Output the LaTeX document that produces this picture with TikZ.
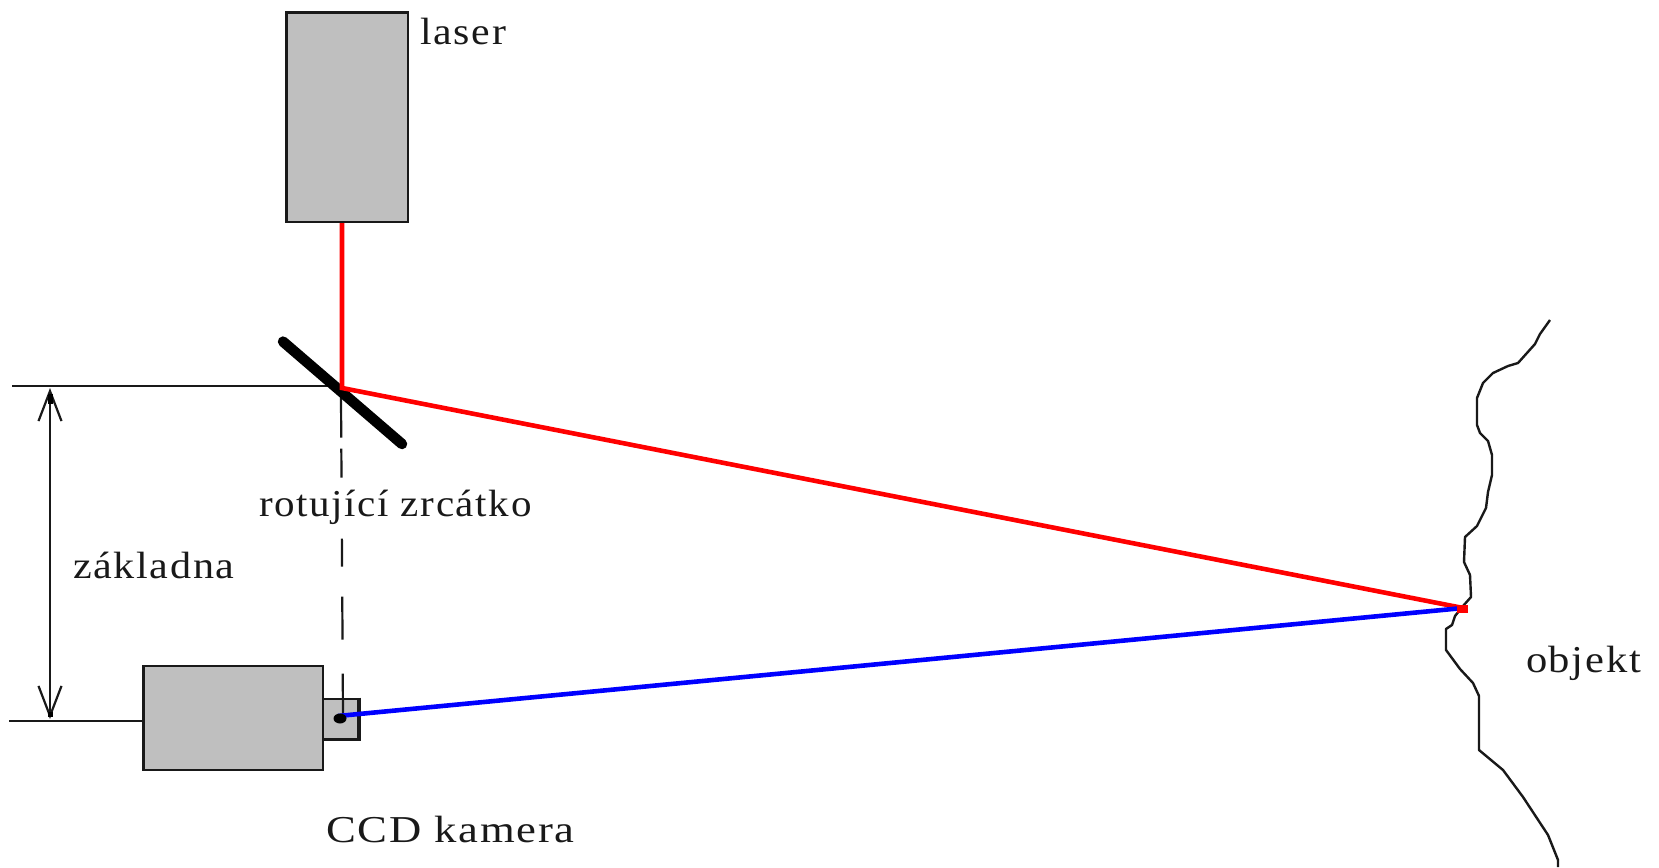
\documentclass[tikz,border=0pt]{standalone}
\usepackage{fontspec}
\setmainfont[LetterSpace=4]{Liberation Serif}
\usetikzlibrary{arrows.meta}
\definecolor{boxgray}{HTML}{BFBFBF}
\tikzset{
  housing/.style={draw=black!90,fill=boxgray,line width=2.6pt},
  thinline/.style={draw=black!90,line width=2.2pt},
  redbeam/.style={draw=red,line width=4.6pt},
  bluebeam/.style={draw=blue,line width=4.6pt},
  lbl/.style={anchor=base west,inner sep=0pt,outer sep=0pt,transform shape,font=\fontsize{38}{40}\selectfont,text=black!90},
  dimarrow/.style={thinline,{Straight Barb[length=30pt,width=23pt,line width=2.2pt]}-{Straight Barb[length=30pt,width=23pt,line width=2.2pt]}}
}
\begin{document}
\begin{tikzpicture}[x=1pt,y=-1pt]
\useasboundingbox (0,0) rectangle (1659,867);
% named points
\coordinate (m1) at (283,341.6);
\coordinate (m2) at (402,444);
\coordinate (hit) at (342,388);
\coordinate (spot) at (1463,608);
\coordinate (ccd) at (338,716);
\coordinate (baseT) at (12,385.7);
\coordinate (baseB) at (9,721.3);
\coordinate (dimT) at (50,388);
\coordinate (dimB) at (50,719);
\coordinate (dashT) at (341,397.6);
\coordinate (dashB) at (343,716);
% housings
\node[housing,minimum width=121.5pt,minimum height=209pt,inner sep=0pt,anchor=north west] (laser) at (285,11.5) {};
\node[housing,minimum width=35.5pt,minimum height=40.5pt,inner sep=0pt,anchor=north west] (lens) at (321,697.5) {};
\draw[line width=3.8pt,black!90] (lens.north east) -- (lens.south east);
\node[housing,minimum width=179.5pt,minimum height=104pt,inner sep=0pt,anchor=north west] (cam) at (142,664.5) {};
% baseline
\draw[thinline] (baseT) -- (baseT -| hit);
\draw[thinline] (baseB) -- (cam.west |- baseB);
\draw[dimarrow] (dimT) -- (dimB);
\draw[black,line width=5pt] (dimT) ++(0,6) -- ++(0,10);
\draw[black,line width=5pt] (dimB) ++(0,-2) -- ++(0,-5);
% dashed axis
\draw[draw=black!90,line width=2.2pt,dash pattern=on 40pt off 11pt on 29pt off 61pt on 28pt off 30pt on 43pt off 34pt on 42pt] (dashT) -- (dashB);
% mirror
\draw[black,line width=10.5pt,line cap=round] (m1) -- (m2);
% object surface
\draw[draw=black!90,line width=2.4pt,line join=round]
 (1550,320) -- (1540,334) -- (1535,344) -- (1518,363) -- (1508,366) -- (1493,373) -- (1483,383)
 -- (1477,398) -- (1477,425) -- (1480,433) -- (1488,441) -- (1492,455) -- (1492,475) -- (1488,492)
 -- (1486,508) -- (1477,526) -- (1465,537) -- (1464,562) -- (1470,575) -- (1471,597) -- (1463,606)
 -- (1455,616) -- (1452,625) -- (1446,629) -- (1446,650) -- (1460,669) -- (1473,683) -- (1479,696)
 -- (1479,750) -- (1503,770) -- (1523,797) -- (1548,835) -- (1558,860) -- (1558,867);
% beams
\draw[redbeam] (laser.south -| hit) -- (hit) -- (spot);
\draw[bluebeam] (ccd) -- (spot);
\fill[red] (spot) ++(-6,-3) rectangle ++(11,8);
\fill[black] (340,718.5) ellipse (6.5pt and 5pt);
% labels
\node[lbl,xscale=1.1] (tlaser) at (420.5,45) {laser};
\node[lbl,xscale=1.08] (tmirror) at (259,516) {rotující zrcátko};
\node[lbl,xscale=1.11] (tbase) at (73,578.5) {základna};
\node[lbl,xscale=1.176] (tccd) at (326,842) {CCD kamera};
\node[lbl,xscale=1.12] (tobj) at (1526,672) {objekt};
\end{tikzpicture}
\end{document}
